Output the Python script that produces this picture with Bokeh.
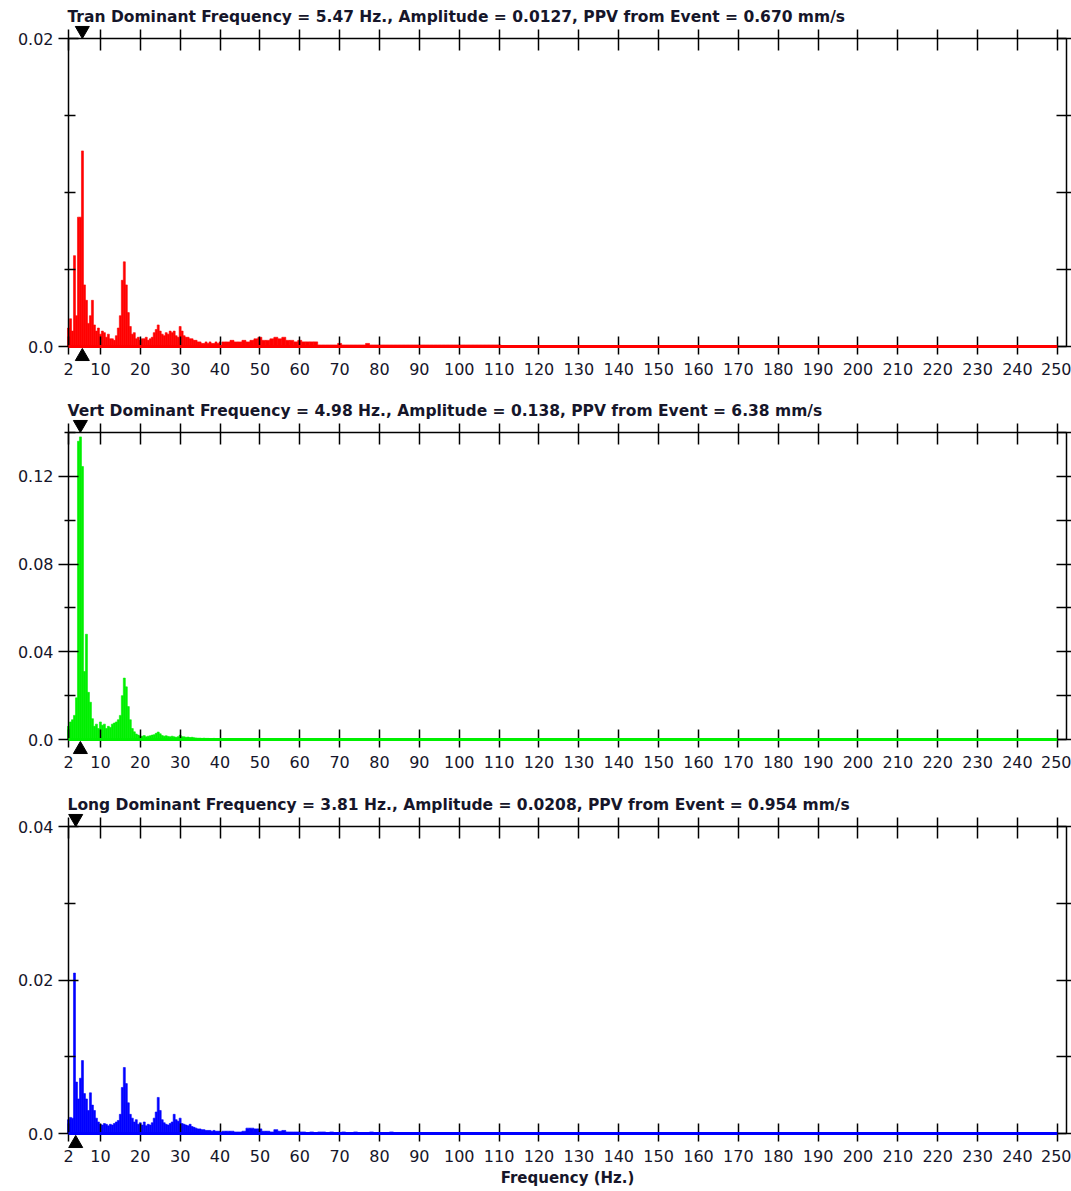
import numpy as np
from bokeh.plotting import figure
from bokeh.models import FixedTicker, LinearAxis, Label, Range1d, CustomJSTickFormatter
from bokeh.layouts import column
from bokeh.embed import file_html
from bokeh.resources import INLINE

# ---------------- data ----------------
x_ticks = [2, 10, 20, 30, 40, 50, 60, 70, 80, 90, 100, 110, 120, 130, 140, 150,
           160, 170, 180, 190, 200, 210, 220, 230, 240, 250]
x_min, x_max = 2.0, 252.3

# fine bins: 2.0 .. 40.0 Hz every 0.5 Hz ; coarse bins: 41 .. 110 Hz every 1 Hz
f_lo = np.arange(2.0, 40.01, 0.5)
f_hi = np.arange(41.0, 110.01, 1.0)

tran_lo = [0.0012, 0.0018, 0.0010, 0.0059, 0.0020, 0.0084, 0.0084, 0.0127, 0.0040, 0.0030,
           0.0015, 0.0020, 0.0030, 0.0014, 0.0010, 0.0012, 0.0008, 0.0010, 0.0009, 0.0006,
           0.0008, 0.0005, 0.0005, 0.0004, 0.0007, 0.0012, 0.0020, 0.0043, 0.0055, 0.0040,
           0.0022, 0.0013, 0.0008, 0.0009, 0.0005, 0.0006, 0.0004, 0.0005, 0.0005, 0.0006,
           0.0004, 0.0005, 0.0006, 0.0009, 0.0011, 0.0014, 0.0010, 0.0008, 0.0007, 0.0009,
           0.0008, 0.0010, 0.0009, 0.0010, 0.0007, 0.0006, 0.0013, 0.0010, 0.0007, 0.0006,
           0.0006, 0.0005, 0.0005, 0.0004, 0.0004, 0.0003, 0.0003, 0.0002, 0.0002, 0.0003,
           0.0002, 0.0003, 0.0002, 0.0002, 0.0003, 0.0002, 0.0003]
tran_hi = [0.0003, 0.0003, 0.0004, 0.0003, 0.0003, 0.0004, 0.0003, 0.0004, 0.0005, 0.0006,
           0.0004, 0.0004, 0.0005, 0.0006, 0.0005, 0.0006, 0.0004, 0.0004, 0.0003, 0.0004,
           0.0003, 0.0003, 0.0003, 0.0003, 0.0001, 0.0001, 0.0001, 0.0001, 0.0001, 0.0002,
           0.0001, 0.0001, 0.0001, 0.0001, 0.0001, 0.0001, 0.0002, 0.0001, 0.0001, 0.0001,
           0.0001, 0.0001, 0.0001, 0.0001, 0.0001, 0.0001, 0.0001, 0.0001, 0.0001, 0.0001,
           0.0001, 0.0001, 0.0001, 0.0001, 0.0001, 0.0001, 0.0001, 0.0001, 0.0001, 0.0001,
           0.0001, 0.0001, 0.0001, 0.0001, 0.0001, 0.0001, 0.0001, 0.0001, 0.0001, 0.0001]

vert_lo = [0.0060, 0.0080, 0.0090, 0.0110, 0.0190, 0.1360, 0.1380, 0.1245, 0.0310, 0.0480,
           0.0215, 0.0170, 0.0095, 0.0060, 0.0070, 0.0050, 0.0080, 0.0065, 0.0070, 0.0050,
           0.0060, 0.0055, 0.0070, 0.0075, 0.0080, 0.0090, 0.0110, 0.0200, 0.0280, 0.0240,
           0.0150, 0.0090, 0.0050, 0.0035, 0.0025, 0.0020, 0.0015, 0.0015, 0.0018, 0.0012,
           0.0015, 0.0017, 0.0020, 0.0022, 0.0028, 0.0034, 0.0026, 0.0018, 0.0015, 0.0017,
           0.0014, 0.0012, 0.0015, 0.0012, 0.0010, 0.0013, 0.0020, 0.0013, 0.0012, 0.0010,
           0.0011, 0.0009, 0.0010, 0.0008, 0.0007, 0.0006, 0.0006, 0.0005, 0.0006, 0.0005,
           0.0005, 0.0004, 0.0004, 0.0005, 0.0004, 0.0004, 0.0003]
vert_hi = [0.0003, 0.0002] + [0.0] * 68

long_lo = [0.0018, 0.0021, 0.0020, 0.0209, 0.0067, 0.0045, 0.0072, 0.0095, 0.0052, 0.0045,
           0.0030, 0.0053, 0.0037, 0.0030, 0.0020, 0.0015, 0.0012, 0.0011, 0.0013, 0.0012,
           0.0010, 0.0012, 0.0011, 0.0013, 0.0015, 0.0017, 0.0025, 0.0060, 0.0086, 0.0065,
           0.0040, 0.0025, 0.0020, 0.0015, 0.0018, 0.0012, 0.0014, 0.0011, 0.0015, 0.0010,
           0.0012, 0.0011, 0.0014, 0.0020, 0.0028, 0.0047, 0.0030, 0.0018, 0.0014, 0.0012,
           0.0011, 0.0013, 0.0015, 0.0025, 0.0018, 0.0016, 0.0020, 0.0013, 0.0012, 0.0011,
           0.0010, 0.0012, 0.0009, 0.0008, 0.0007, 0.0006, 0.0006, 0.0005, 0.0005, 0.0004,
           0.0004, 0.0004, 0.0003, 0.0004, 0.0003, 0.0003, 0.0003]
long_hi = [0.0003, 0.0003, 0.0003, 0.0002, 0.0002, 0.0003, 0.0007, 0.0007, 0.0006, 0.0006,
           0.0003, 0.0003, 0.0002, 0.0005, 0.0003, 0.0004, 0.0002, 0.0002, 0.0002, 0.0002,
           0.0002, 0.0001, 0.0002, 0.0001, 0.0002, 0.0002, 0.0001, 0.0002, 0.0001, 0.0001,
           0.0002, 0.0001, 0.0001, 0.0002, 0.0001, 0.0001, 0.0001, 0.0002, 0.0001, 0.0001,
           0.0001, 0.0001, 0.0002, 0.0001, 0.0001, 0.0001, 0.0001, 0.0001, 0.0001, 0.0001,
           0.0001, 0.0001, 0.0001, 0.0001, 0.0001, 0.0001, 0.0001, 0.0001, 0.0001, 0.0001,
           0.0001, 0.0001, 0.0001, 0.0, 0.0, 0.0, 0.0, 0.0, 0.0, 0.0]

names = ["Tran", "Vert", "Long"]
dom_freq = [5.47, 4.98, 3.81]
amplitude = ["0.0127", "0.138", "0.0208"]
ppv = ["0.670", "6.38", "0.954"]
colors = ["#ff0000", "#00f000", "#0000ff"]
y_max = [0.02, 0.14, 0.04]
y_major = [[0.0, 0.02], [0.0, 0.04, 0.08, 0.12], [0.0, 0.02, 0.04]]
y_minor = [[0.005, 0.01, 0.015], [0.02, 0.06, 0.10, 0.14], [0.01, 0.03]]
lo_vals = [tran_lo, vert_lo, long_lo]
hi_vals = [tran_hi, vert_hi, long_hi]

# ---------------- style / geometry ----------------
FONT = "DejaVu Sans"
TXT = "#16162a"
box_w = 998                  # width of the axes box in px
pad_left, pad_right = 68, 5  # room left / right of the box inside the frame
box_h = [308, 307, 307]      # height of the axes box in px
pad_top = [38, 52, 53]       # room above the box (title + marker) inside the frame
pad_bot = [34, 34, 58]       # room below the box (marker, tick labels, x label)

fmt = CustomJSTickFormatter(code="""
if (Math.abs(tick) < 1e-12) { return "0.0"; }
return tick.toFixed(2);
""")


def make_panel(i):
    ym = y_max[i]
    k = ym / box_h[i]                         # data units per pixel (y)
    kx = (x_max - x_min) / box_w              # data units per pixel (x)
    p = figure(frame_width=box_w + pad_left + pad_right,
               frame_height=box_h[i] + pad_top[i] + pad_bot[i],
               x_range=Range1d(x_min - pad_left * kx, x_max + pad_right * kx),
               y_range=Range1d(-pad_bot[i] * k, ym + pad_top[i] * k),
               output_backend="svg", toolbar_location=None,
               x_axis_location=None, y_axis_location=None,
               min_border_left=0, min_border_right=0,
               min_border_top=0, min_border_bottom=0,
               background_fill_color="white", border_fill_color="white")
    p.outline_line_color = None
    p.xgrid.visible = False
    p.ygrid.visible = False

    col = colors[i]
    p.vbar(x=f_lo, top=lo_vals[i], width=0.5, fill_color=col, line_color=col, line_width=0.6)
    p.vbar(x=f_hi, top=hi_vals[i], width=1.0, fill_color=col, line_color=col, line_width=0.6)

    # bottom axis, fixed at y = 0
    xb = LinearAxis(ticker=FixedTicker(ticks=x_ticks), fixed_location=0, bounds=(x_min, x_max),
                    major_tick_in=10, major_tick_out=8, major_label_standoff=8,
                    axis_line_width=1.5, major_tick_line_width=1.5,
                    major_label_text_font=FONT, major_label_text_font_size="16px",
                    major_label_text_color=TXT)
    if i == 2:
        xb.axis_label = "Frequency (Hz.)"
        xb.axis_label_text_font = FONT
        xb.axis_label_text_font_size = "15px"
        xb.axis_label_text_font_style = "bold"
        xb.axis_label_text_color = TXT
        xb.axis_label_standoff = 4
    p.add_layout(xb, "below")
    # top axis (ticks only), fixed at y = ymax
    xt = LinearAxis(ticker=FixedTicker(ticks=x_ticks), fixed_location=ym, bounds=(x_min, x_max),
                    major_tick_in=12, major_tick_out=9, major_label_standoff=0,
                    axis_line_width=1.5, major_tick_line_width=1.5,
                    major_label_text_font_size="0px", major_label_text_color=None)
    p.add_layout(xt, "above")
    # left axis, fixed at x = x_min
    yl = LinearAxis(ticker=FixedTicker(ticks=y_major[i], minor_ticks=y_minor[i]),
                    formatter=fmt, bounds=(0, ym), fixed_location=x_min,
                    major_tick_in=10, major_tick_out=10, minor_tick_in=7, minor_tick_out=4,
                    major_label_standoff=5,
                    axis_line_width=1.5, major_tick_line_width=1.5, minor_tick_line_width=1.5,
                    minor_tick_line_color="black",
                    major_label_text_font=FONT, major_label_text_font_size="16px",
                    major_label_text_color=TXT)
    p.add_layout(yl, "left")
    # right axis (ticks only), fixed at x = x_max
    yr = LinearAxis(ticker=FixedTicker(ticks=sorted(y_major[i] + y_minor[i])),
                    bounds=(0, ym), fixed_location=x_max,
                    major_tick_in=10, major_tick_out=5, major_label_standoff=0,
                    axis_line_width=1.5, major_tick_line_width=1.5,
                    major_label_text_font_size="0px", major_label_text_color=None)
    p.add_layout(yr, "right")

    # coloured baseline drawn over the axis
    p.line([2, 250], [0, 0], line_color=col, line_width=3, level="overlay")

    # dominant-frequency markers
    p.scatter([dom_freq[i]], [ym + 8 * k], marker="inverted_triangle", size=14,
              fill_color="black", line_color="black", level="overlay")
    p.scatter([dom_freq[i]], [-10 * k], marker="triangle", size=14,
              fill_color="black", line_color="black", level="overlay")

    # title
    title = (f"{names[i]} Dominant Frequency = {dom_freq[i]:.2f} Hz., "
             f"Amplitude = {amplitude[i]},  PPV from Event = {ppv[i]} mm/s")
    p.add_layout(Label(x=x_min, y=ym, x_offset=-1, y_offset=22, text=title,
                       text_font=FONT, text_font_size="15.5px", text_font_style="bold",
                       text_color=TXT, text_baseline="alphabetic", text_align="left"))
    return p


panels = [make_panel(i) for i in range(3)]
layout = column(*panels, spacing=0)

open("out.html", "w").write(file_html(layout, INLINE))
